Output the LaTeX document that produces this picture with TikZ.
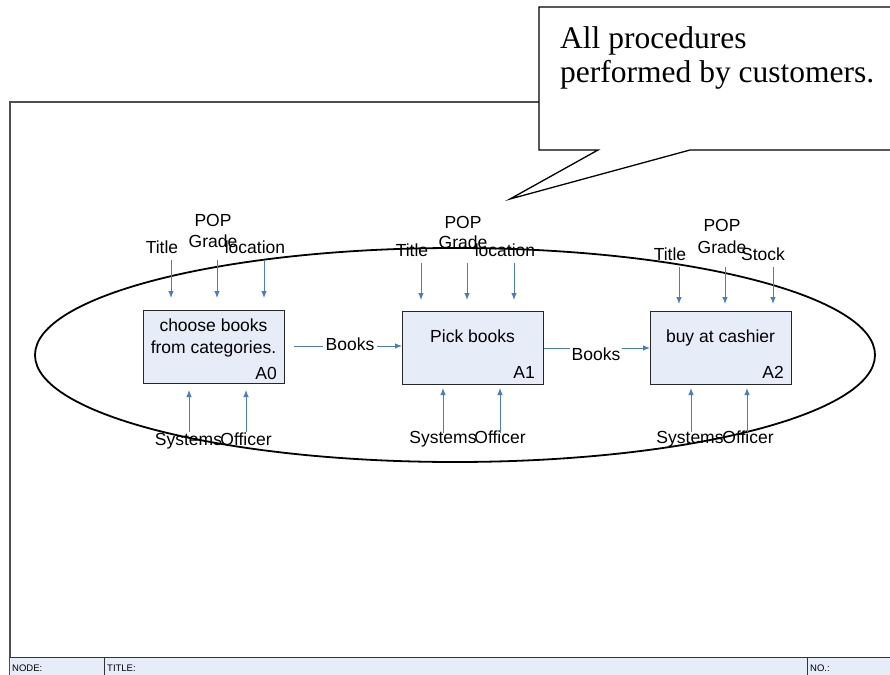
\documentclass[tikz,border=0pt]{standalone}
\usepackage{fontspec}
\setmainfont{Liberation Sans}
\newfontfamily\calloutfont{Liberation Serif}
\usetikzlibrary{arrows.meta}
\definecolor{boxfill}{HTML}{E6ECF8}
\definecolor{flowblue}{HTML}{4A7CC4}
\definecolor{framegray}{HTML}{505050}
\begin{document}
\begin{tikzpicture}[x=1pt,y=-1pt,
  every node/.style={inner sep=0pt, font=\fontsize{17.5}{22}\selectfont},
  lbl/.style={anchor=base},
  actbox/.style={draw=black!85, fill=boxfill, line width=1pt, anchor=north west,
    minimum width=141pt, minimum height=73pt},
  boxtext/.style={anchor=base, align=center},
  boxid/.style={anchor=base east},
  flow/.style={draw=flowblue, line width=0.9pt},
  flowarrow/.style={flow, -{Latex[length=7pt,width=5.5pt]}},
  barlbl/.style={anchor=base west, font=\fontsize{9.5}{11}\selectfont},
]
\clip (0,0) rectangle (890,674);
\useasboundingbox (0,0) rectangle (890,674);

% drawing frame and title bar
\draw[framegray, line width=1.4pt] (10,680) -- (10,102) -- (900,102);
\path[fill=boxfill] (10,657) rectangle (900,680);
\draw[black!80, line width=0.8pt] (10,657) -- (900,657);
\draw[black!80, line width=0.8pt] (104,657) -- (104,680);
\draw[black!80, line width=0.8pt] (807,657) -- (807,680);
\node[barlbl] (nodelbl) at (12,671) {NODE:};
\node[barlbl] (titlelbl) at (107,671) {TITLE:};
\node[barlbl] (nolbl) at (810,671) {NO.:};

% group boundary
\draw[black, line width=1.8pt] (455,355) ellipse [x radius=420, y radius=107];

% activity boxes
\node[actbox] (a0) at (143,310) {};
\node[actbox] (a1) at (402,311) {};
\node[actbox] (a2) at (650,311) {};
\node[boxtext] (a0t) at (213.5,353) {choose books\\from categories.};
\node[boxtext] (a1t) at (472.5,342) {Pick books};
\node[boxtext] (a2t) at (720.5,342) {buy at cashier};
\node[boxid] (a0id) at (277,379) {A0};
\node[boxid] (a1id) at (535,378) {A1};
\node[boxid] (a2id) at (784,378) {A2};

% outputs between activities
\coordinate (o0) at (294,346);
\node[lbl, inner sep=2pt] (bk1) at (350,350) {Books};
\draw[flow] (o0) -- (o0 -| bk1.west);
\draw[flowarrow] (o0 -| bk1.east) -- (o0 -| a1.west);
\node[lbl, inner sep=1pt] (bk2) at (596,360) {Books};
\draw[flow] (a1.east) -- (a1.east -| bk2.west);
\draw[flowarrow] (a1.east -| bk2.east) -- (a2.west);

% controls of A0
\node[lbl] (c0a) at (162,253) {Title};
\node[lbl] (c0b) at (213,226) {POP};
\node[lbl] (c0c) at (213,247) {Grade};
\node[lbl] (c0d) at (255,253) {location};
\coordinate (c0as) at (171,260); \coordinate (c0ae) at (171,298);
\coordinate (c0bs) at (217,260); \coordinate (c0be) at (217,298);
\coordinate (c0ds) at (264,260); \coordinate (c0de) at (264,298);
\draw[flowarrow] (c0as) -- (c0ae);
\draw[flowarrow] (c0bs) -- (c0be);
\draw[flowarrow] (c0ds) -- (c0de);

% controls of A1
\node[lbl] (c1a) at (412,256) {Title};
\node[lbl] (c1b) at (463,228) {POP};
\node[lbl] (c1c) at (463,248) {Grade};
\node[lbl] (c1d) at (505,256) {location};
\coordinate (c1as) at (421,263); \coordinate (c1ae) at (421,300);
\coordinate (c1bs) at (467,263); \coordinate (c1be) at (467,300);
\coordinate (c1ds) at (514,263); \coordinate (c1de) at (514,300);
\draw[flowarrow] (c1as) -- (c1ae);
\draw[flowarrow] (c1bs) -- (c1be);
\draw[flowarrow] (c1ds) -- (c1de);

% controls of A2
\node[lbl] (c2a) at (670,260) {Title};
\node[lbl] (c2b) at (722,231) {POP};
\node[lbl] (c2c) at (722,253) {Grade};
\node[lbl] (c2d) at (763,260) {Stock};
\coordinate (c2as) at (679,267); \coordinate (c2ae) at (679,304);
\coordinate (c2bs) at (725,267); \coordinate (c2be) at (725,304);
\coordinate (c2ds) at (773,267); \coordinate (c2de) at (773,304);
\draw[flowarrow] (c2as) -- (c2ae);
\draw[flowarrow] (c2bs) -- (c2be);
\draw[flowarrow] (c2ds) -- (c2de);

% mechanisms
\node[lbl] (m0a) at (188.5,445) {Systems};
\node[lbl] (m0b) at (246,445) {Officer};
\node[lbl] (m1a) at (443,443) {Systems};
\node[lbl] (m1b) at (500,443) {Officer};
\node[lbl] (m2a) at (690,443) {Systems};
\node[lbl] (m2b) at (748,443) {Officer};
\coordinate (m0as) at (189,432); \coordinate (m0ae) at (189,390);
\coordinate (m0bs) at (246,432); \coordinate (m0be) at (246,390);
\coordinate (m1as) at (443,433); \coordinate (m1ae) at (443,388);
\coordinate (m1bs) at (500,433); \coordinate (m1be) at (500,388);
\coordinate (m2as) at (691,432); \coordinate (m2ae) at (691,388);
\coordinate (m2bs) at (747,432); \coordinate (m2be) at (747,388);
\draw[flowarrow] (m0as) -- (m0ae);
\draw[flowarrow] (m0bs) -- (m0be);
\draw[flowarrow] (m1as) -- (m1ae);
\draw[flowarrow] (m1bs) -- (m1be);
\draw[flowarrow] (m2as) -- (m2ae);
\draw[flowarrow] (m2bs) -- (m2be);

% callout
\draw[black, fill=white, line width=1.3pt, line join=miter]
  (539,7) -- (905,7) -- (905,150) -- (690,150) -- (510,199) -- (598,150)
  -- (539,150) -- cycle;
\node[anchor=north west, align=left,
  font=\calloutfont\fontsize{31.5}{34}\selectfont] (note) at (560,26)
  {All procedures\\performed by customers.};
\end{tikzpicture}
\end{document}
